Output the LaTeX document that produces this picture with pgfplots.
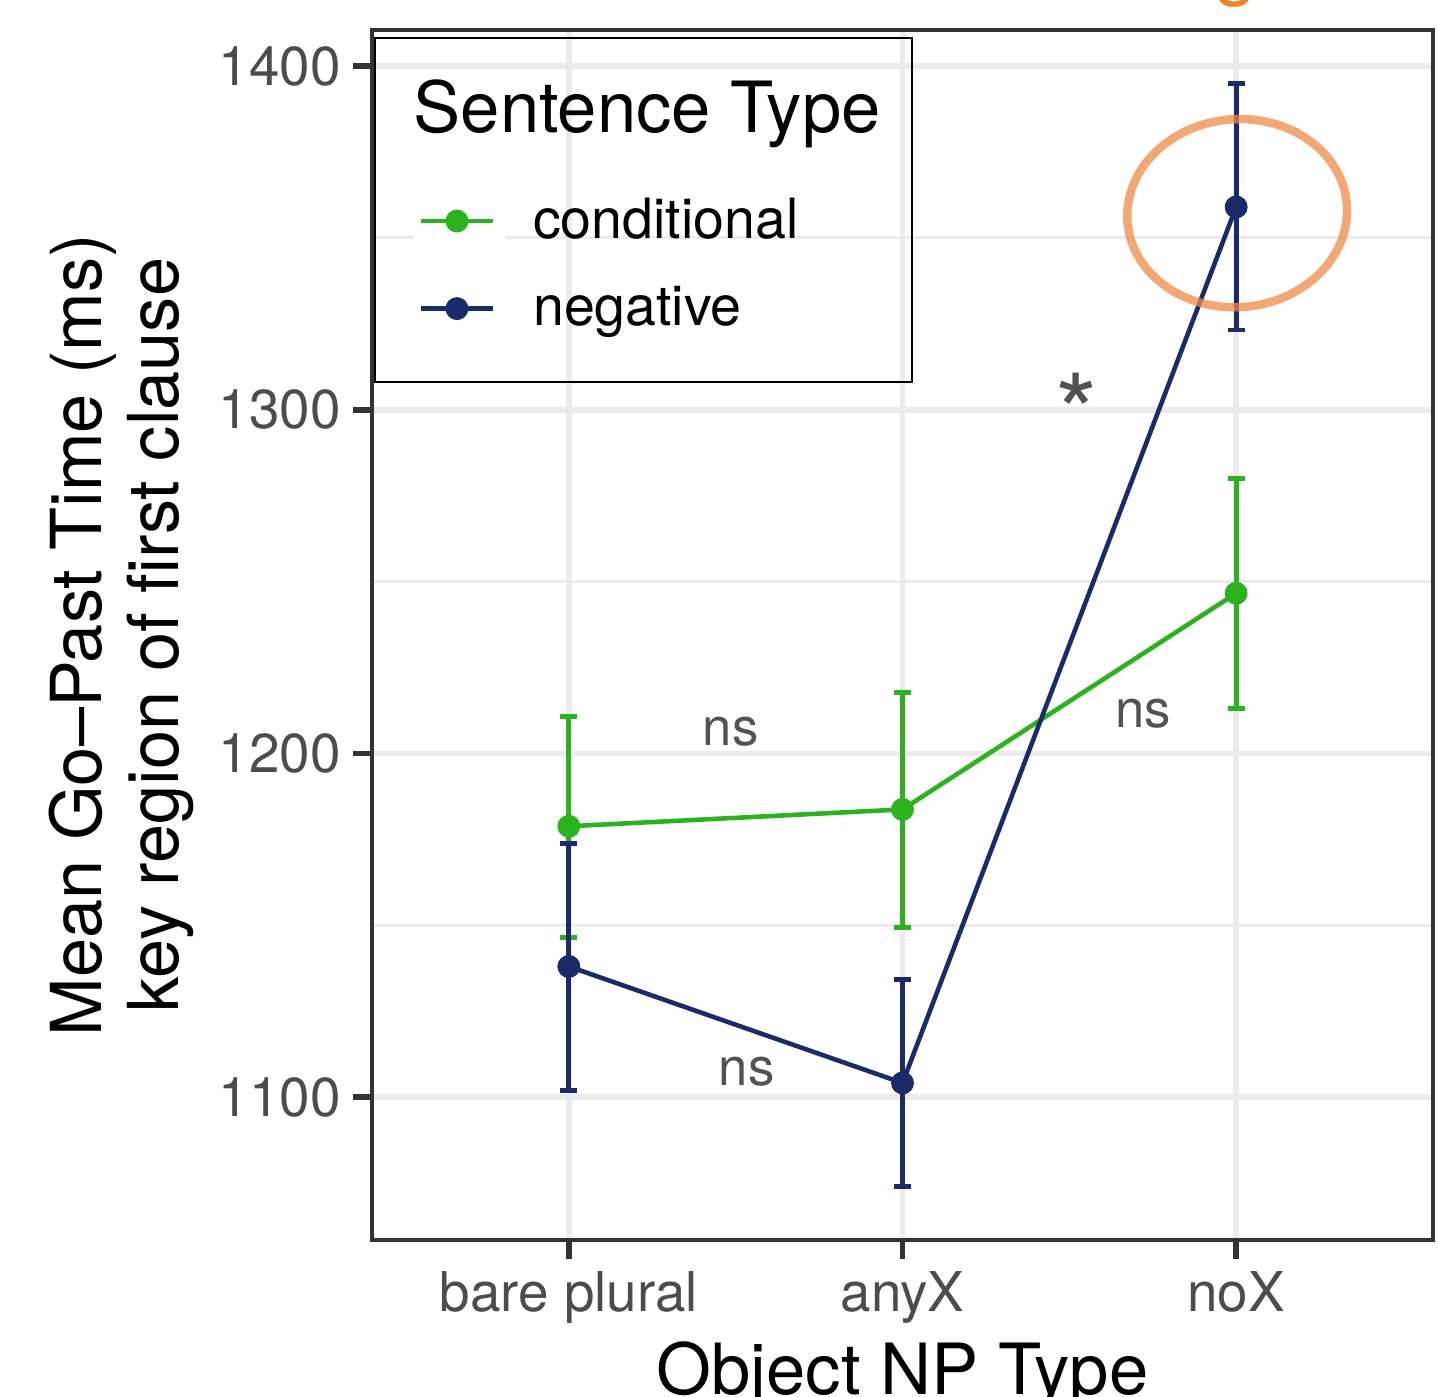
\documentclass[border=0pt]{standalone}
\usepackage{fontspec}
\setmainfont{TeX Gyre Heros}
\usepackage{pgfplots}
\usepackage{pgfplotstable}
\pgfplotsset{compat=1.18}

\definecolor{condgreen}{HTML}{2CB21E}
\definecolor{negblue}{HTML}{1B2A68}
\definecolor{gridgray}{HTML}{EBEBEB}
\definecolor{ringorange}{HTML}{EE8A45}
\definecolor{textorange}{HTML}{F08224}

% means and error bar half-widths (ms)
\pgfplotstableread{
x y ep em
1 1178.8 32.0 32.3
2 1183.7 34.0 34.3
3 1246.6 33.4 33.5
}\conditional
\pgfplotstableread{
x y ep em
1 1138.0 35.8 36.0
2 1104.1 30.2 30.0
3 1359.0 35.8 35.8
}\negative

\begin{document}
\begin{tikzpicture}
\begin{axis}[
    at={(0,0)}, anchor=south west,
    scale only axis, width=10.61cm, height=12.10cm,
    xmin=0.41, xmax=3.59, ymin=1058.4, ymax=1410.5,
    xtick={1,2,3}, xticklabels={bare plural, anyX, noX},
    ytick={1100,1200,1300,1400},
    minor ytick={1150,1250,1350},
    xmajorgrids, ymajorgrids, yminorgrids,
    major grid style={gridgray, line width=1.6pt},
    minor grid style={gridgray, line width=0.9pt},
    axis line style={black!80, line width=1.3pt},
    tick style={black!80, line width=1.6pt},
    major tick length=0.19cm, minor tick length=0pt,
    tick align=outside, xtick pos=lower, ytick pos=left,
    ticklabel style={font=\fontsize{15.6}{18}\selectfont, text=black!70},
    /pgf/number format/assume math mode=true,
    /pgf/number format/1000 sep={},
    xlabel={Object NP Type},
    ylabel={Mean Go–Past Time (ms)\\key region of first clause},
    every axis x label/.style={at={(rel axis cs:0.5,0)}, anchor=base, yshift=-1.54cm,
        font=\fontsize{20.1}{22}\selectfont},
    every axis y label/.style={at={(rel axis cs:-0.2361,0.5)}, anchor=center, rotate=90,
        align=center, font=\fontsize{20}{21.9}\selectfont},
    legend style={at={(rel axis cs:0.0386,0.876)}, anchor=north west, draw=none, fill=none,
        inner sep=0pt, row sep=0.07cm, column sep=0.28cm,
        font=\fontsize{15.8}{18}\selectfont, nodes={inner sep=0pt}},
    legend cell align=left,
    legend image code/.code={
        \fill[white] (-0.05cm,-0.38cm) rectangle (0.82cm,0.38cm);
        \draw[mark repeat=2,mark phase=2,#1] plot coordinates {(0cm,0cm) (0.36cm,0cm) (0.72cm,0cm)};
    },
]
\addplot[condgreen, line width=1.3pt, mark=*, mark size=2.6pt,
    error bars/.cd, y dir=both, y explicit, error mark=-,
    error bar style={line width=1.4pt},
    error mark options={rotate=90, line width=1.4pt, mark size=0.085cm}]
    table[x=x, y=y, y error plus=ep, y error minus=em] {\conditional};
\addlegendentry{conditional}
\addplot[negblue, line width=1.3pt, mark=*, mark size=2.6pt,
    error bars/.cd, y dir=both, y explicit, error mark=-,
    error bar style={line width=1.4pt},
    error mark options={rotate=90, line width=1.4pt, mark size=0.085cm}]
    table[x=x, y=y, y error plus=ep, y error minus=em] {\negative};
\addlegendentry{negative}

% legend frame and title
\draw[black, line width=0.7pt] (rel axis cs:0.0028,0.9934) rectangle (rel axis cs:0.509,0.7091);
\node[anchor=base west, inner sep=0pt, font=\fontsize{20.1}{22}\selectfont]
    at (rel axis cs:0.0386,0.9149) {Sentence Type};

% significance labels
\node[anchor=base, inner sep=0pt, text=black!68, font=\fontsize{15}{18}\selectfont]
    at (axis cs:1.485,1202.3) {ns};
\node[anchor=base, inner sep=0pt, text=black!68, font=\fontsize{15}{18}\selectfont]
    at (axis cs:1.533,1103.5) {ns};
\node[anchor=base, inner sep=0pt, text=black!68, font=\fontsize{15}{18}\selectfont]
    at (axis cs:2.722,1207.6) {ns};
\node[anchor=base, inner sep=0pt, text=black!68, font=\fontsize{31}{34}\selectfont]
    at (axis cs:2.521,1287.5) {*};

% highlight ring
\draw[ringorange, opacity=0.75, line width=2.4pt, rotate around={5:(axis cs:3.003,1357.2)}]
    (axis cs:3.003,1357.2) ellipse [x radius=1.10cm, y radius=0.94cm];
\end{axis}
\node[anchor=base, inner sep=0pt, text=textorange, font=\fontsize{22}{24}\selectfont]
    at (8.64,12.49) {g};
\pgfresetboundingbox
\useasboundingbox (-3.72,-1.56) rectangle (10.66,12.40);
\end{tikzpicture}
\end{document}
